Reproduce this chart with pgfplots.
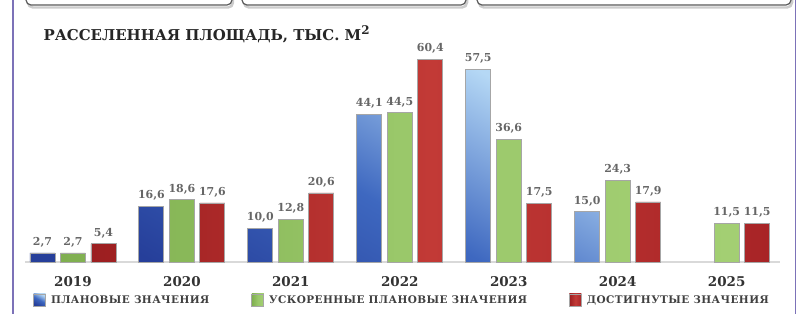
\documentclass[border=0pt]{standalone}
\usepackage{fontspec}
\setmainfont{DejaVu Serif}
\newfontfamily\legfont[LetterSpace=4]{DejaVu Serif}
\usepackage{pgfplots}
\pgfplotsset{compat=1.18}
\definecolor{blight}{HTML}{B5D8F5}
\definecolor{bmid}{HTML}{3E68C0}
\definecolor{bdark}{HTML}{263F9A}
\definecolor{gleft}{HTML}{7FAF4F}
\definecolor{gmid}{HTML}{9AC86A}
\definecolor{gright}{HTML}{A3CF73}
\definecolor{rleft}{HTML}{9C1E20}
\definecolor{rmid}{HTML}{C23A36}
\definecolor{rright}{HTML}{A82426}
\definecolor{frame}{HTML}{7C72B8}
\begin{document}
\begin{tikzpicture}[x=1bp,y=1bp]
\useasboundingbox (0,0) rectangle (803,313);
% decorative frame
\draw[frame, line width=1.5] (13,-5)--(13,320);
\draw[frame, line width=1.5] (795.5,-5)--(795.5,320);
\foreach \a/\b in {26/232,242/466,477/791}{
  \draw[black!20, line width=2.5, rounded corners=5] (\a+2,330) -- (\a+2,305.5) -- (\b+1,305.5) -- (\b+1,330);
  \draw[rounded corners=5, draw=black!65, line width=1.2, fill=white] (\a,330) rectangle (\b,308);
}
\node[anchor=base west, font=\bfseries\fontsize{15}{16}\selectfont, text=black!85] at (40,273)
  {РАССЕЛЕННАЯ ПЛОЩАДЬ, ТЫС. М\raisebox{6bp}{\fontsize{12}{12}\selectfont 2}};
\begin{axis}[
  at={(25bp,51bp)}, anchor=south west, scale only axis,
  width=755bp, height=212bp,
  xmin=-0.44, xmax=6.49, ymin=0, ymax=63.2,
  axis y line=none, axis x line*=bottom,
  x axis line style={draw=black!15, line width=2.5pt, -},
  xtick={0,1,2,3,4,5,6},
  xticklabels={2019,2020,2021,2022,2023,2024,2025},
  major tick length=0pt,
  xticklabel style={font=\bfseries\fontsize{13.5}{14}\selectfont, text=black!80, anchor=center, yshift=-20bp},
  ybar=5.5bp, bar width=25bp,
  clip=false,
  nodes near coords={\pgfmathprintnumber[fixed,fixed zerofill,precision=1,use comma,assume math mode=true]{\pgfplotspointmeta}},
  every node near coord/.append style={font=\bfseries\fontsize{11}{12}\selectfont, text=black!60, yshift=2bp},
  legsq/.style={legend image code/.code={\draw[##1,line width=0.8pt] (0bp,-6bp) rectangle (12bp,6bp);}},
  legend columns=3,
  legend cell align=left,
  legend style={at={(axis description cs:0.0106,-0.179)}, anchor=west, draw=none, fill=none, inner sep=0pt,
    font=\legfont\bfseries\fontsize{10.5}{11}\selectfont, text=black!75,
    /tikz/every even column/.append style={column sep=40bp},
    /tikz/every odd column/.append style={column sep=3bp},
    nodes={inner sep=2bp}},
]
\addplot[legsq, draw=black!35, line width=0.8pt, top color=blight, bottom color=bdark, middle color=bmid, shading angle=-30]
  coordinates {(0,2.7) (1,16.6) (2,10.0) (3,44.1) (4,57.5) (5,15.0)};
\addlegendentry{ПЛАНОВЫЕ ЗНАЧЕНИЯ}
\addplot[legsq, draw=black!35, line width=0.8pt, left color=gleft, right color=gright, middle color=gmid]
  coordinates {(0,2.7) (1,18.6) (2,12.8) (3,44.5) (4,36.6) (5,24.3) (6,11.5)};
\addlegendentry{УСКОРЕННЫЕ ПЛАНОВЫЕ ЗНАЧЕНИЯ}
\addplot[legsq, draw=black!35, line width=0.8pt, left color=rleft, right color=rright, middle color=rmid]
  coordinates {(0,5.4) (1,17.6) (2,20.6) (3,60.4) (4,17.5) (5,17.9) (6,11.5)};
\addlegendentry{ДОСТИГНУТЫЕ ЗНАЧЕНИЯ}
\end{axis}
\end{tikzpicture}
\end{document}
